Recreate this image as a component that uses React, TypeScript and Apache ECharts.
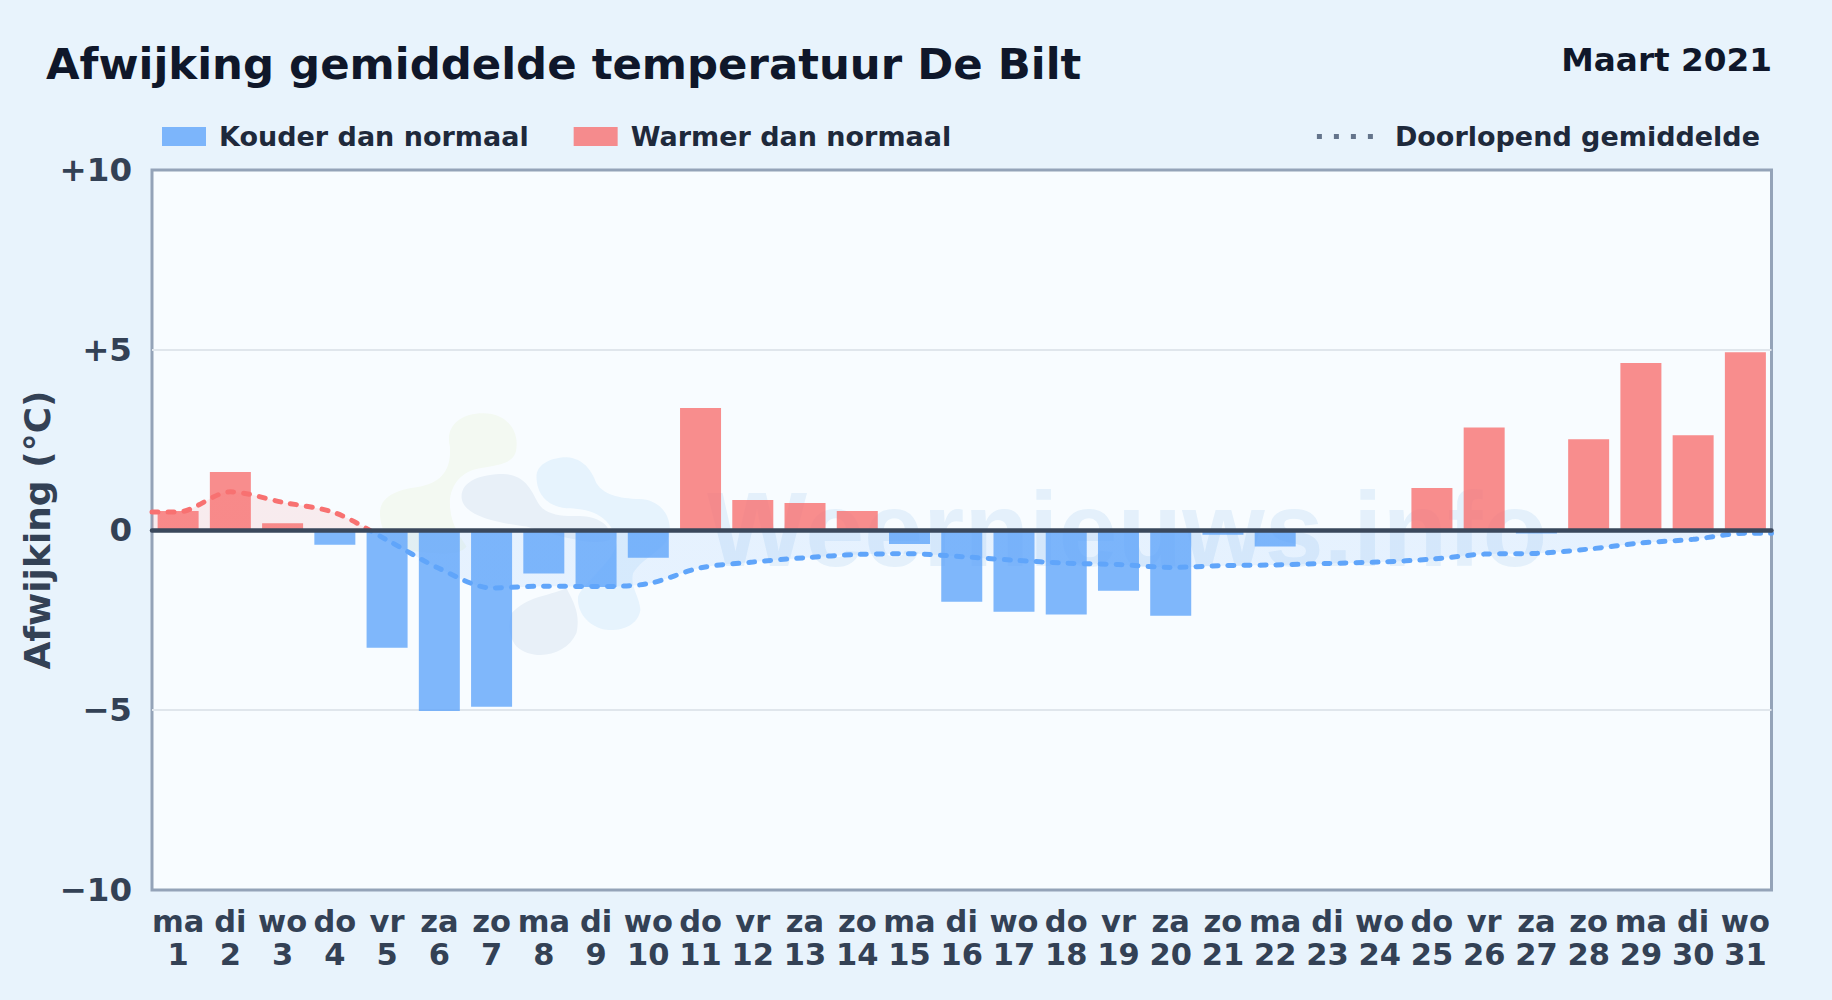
import React, { useEffect, useRef } from "react";
import * as echarts from "echarts";

const weekdays = ["ma","di","wo","do","vr","za","zo","ma","di","wo","do","vr","za","zo","ma","di","wo","do","vr","za","zo","ma","di","wo","do","vr","za","zo","ma","di","wo"];
const days = ["1","2","3","4","5","6","7","8","9","10","11","12","13","14","15","16","17","18","19","20","21","22","23","24","25","26","27","28","29","30","31"];
const deviation = [0.53,1.61,0.19,-0.41,-3.27,-5.03,-4.91,-1.21,-1.58,-0.77,3.39,0.83,0.75,0.53,-0.39,-1.99,-2.27,-2.35,-1.69,-2.38,-0.13,-0.46,0,0,1.17,2.85,-0.1,2.52,4.64,2.63,4.94];
const runningMean = [0.5,1.06,0.77,0.48,-0.28,-1.07,-1.61,-1.56,-1.57,-1.49,-1.05,-0.89,-0.77,-0.68,-0.66,-0.74,-0.84,-0.92,-0.96,-1.04,-0.99,-0.97,-0.93,-0.89,-0.81,-0.67,-0.65,-0.53,-0.36,-0.26,-0.09];
const yTicks: Record<string, string> = { "10": "+10", "5": "+5", "0": "0", "-5": "\u22125", "-10": "\u221210" };

const BLUE = "#60a5fa";
const RED = "#f87171";
const FONT = "'DejaVu Sans', sans-serif";

const GREEN_BLOB = "M60 340C60 290 110 270 170 262C240 250 275 215 270 140C255 80 300 40 370 40C440 40 475 90 470 140C470 190 420 195 360 205C300 215 270 260 270 310C270 370 300 410 320 440C300 470 230 460 170 455C100 450 60 400 60 340Z";
const GRAY_BLOB = "M305 290C305 240 370 222 430 222C490 225 510 260 530 300C550 345 600 350 660 348C720 350 760 380 750 420C700 440 600 410 500 380C420 370 305 350 305 290ZM456 640C500 590 560 590 620 565C650 620 660 650 650 700C620 770 520 785 470 740C445 710 445 670 456 640Z";
const BLUE_BLOB = "M530 230C530 190 580 172 620 172C670 175 695 210 710 250C735 290 790 296 850 298C905 305 935 350 930 400C920 450 850 470 820 520C810 560 840 590 842 630C835 680 780 695 740 690C680 680 650 630 655 590C670 550 780 470 770 420C750 340 680 325 620 325C560 320 530 280 530 230Z";

echarts.graphic.registerShape("wmGreen", echarts.graphic.extendPath(GREEN_BLOB, {}));
echarts.graphic.registerShape("wmGray", echarts.graphic.extendPath(GRAY_BLOB, {}));
echarts.graphic.registerShape("wmBlue", echarts.graphic.extendPath(BLUE_BLOB, {}));

const PLOT_TOP = 170;
const PLOT_BOTTOM = 890;

const splitGradient = (alpha: number) => new echarts.graphic.LinearGradient(0, PLOT_TOP, 0, PLOT_BOTTOM, [
  { offset: 0, color: alpha < 1 ? `rgba(248,113,113,${alpha})` : RED },
  { offset: 0.5, color: alpha < 1 ? `rgba(248,113,113,${alpha})` : RED },
  { offset: 0.5, color: alpha < 1 ? `rgba(96,165,250,${alpha})` : BLUE },
  { offset: 1, color: alpha < 1 ? `rgba(96,165,250,${alpha})` : BLUE },
], true);

export default function App() {
  const ref = useRef<HTMLDivElement>(null);
  useEffect(() => {
    document.body.style.margin = "0";
    const chart = echarts.init(ref.current!, undefined, { renderer: "svg" });
    const blob = (type: string, fill: string) => ({
      type, x: 360, y: 400, scaleX: 1 / 3, scaleY: 1 / 3, z: 1, silent: true, style: { fill },
    });
    const legendText = { color: "#1e293b", fontFamily: FONT, fontWeight: "bold", fontSize: 27 };
    chart.setOption({
      animation: false,
      backgroundColor: "#e8f3fc",
      textStyle: { fontFamily: FONT },
      title: [
        { text: "Afwijking gemiddelde temperatuur De Bilt", left: 46, top: 42, padding: 0,
          textStyle: { color: "#0f172a", fontFamily: FONT, fontWeight: "bold", fontSize: 43.4 } },
        { text: "Maart 2021", right: 60, top: 43, padding: 0,
          textStyle: { color: "#0f172a", fontFamily: FONT, fontWeight: "bold", fontSize: 32.7 } },
      ],
      legend: [
        { left: 162, top: 123, padding: 0, itemWidth: 44, itemHeight: 19, itemGap: 45,
          icon: "rect", selectedMode: false,
          data: ["Kouder dan normaal", "Warmer dan normaal"],
          textStyle: { ...legendText, padding: [0, 0, 0, 8] } },
        { right: 72, top: 123, padding: 0, itemWidth: 56, itemHeight: 5, selectedMode: false,
          data: [{ name: "Doorlopend gemiddelde",
            icon: "path://M0 0h5v5h-5zM17 0h5v5h-5zM34 0h5v5h-5zM51 0h5v5h-5z",
            itemStyle: { color: "#64748b", opacity: 1 }, lineStyle: { opacity: 0 } }],
          textStyle: { ...legendText, padding: [0, 0, 0, 17] } },
      ],
      grid: { left: 152, right: 60.5, top: PLOT_TOP, bottom: 1000 - PLOT_BOTTOM, show: true,
        backgroundColor: "#f8fcff", borderColor: "#94a3b8", borderWidth: 3, containLabel: false },
      xAxis: [
        { type: "category", data: days.map((d, i) => `${weekdays[i]}\n${d}`), z: 4,
          axisLine: { show: true, onZero: true, lineStyle: { color: "#3a485c", width: 4.5 } },
          axisTick: { show: false },
          axisLabel: { interval: 0, color: "#334155", fontFamily: FONT, fontWeight: "bold", fontSize: 30.5, lineHeight: 33, margin: 15 } },
        { type: "value", min: 0, max: 31, show: false, gridIndex: 0 },
      ],
      yAxis: {
        type: "value", min: -10, max: 10, interval: 5,
        name: "Afwijking (\u00B0C)", nameLocation: "middle", nameGap: 97, nameRotate: 90, nameMoveOverlap: false,
        nameTextStyle: { color: "#334155", fontFamily: FONT, fontWeight: "bold", fontSize: 36 },
        axisLine: { show: false }, axisTick: { show: false },
        axisLabel: { color: "#334155", fontFamily: FONT, fontWeight: "bold", fontSize: 32.5, margin: 20,
          formatter: (v: number) => yTicks[String(v)] },
        splitLine: { show: true, showMinLine: false, showMaxLine: false, lineStyle: { color: "#e0e6ec", width: 2 } },
      },
      series: [
        { name: "Kouder dan normaal", type: "bar", barWidth: 41, barGap: "-100%",
          itemStyle: { color: "rgba(96,165,250,0.8)" },
          data: deviation.map((v) => (v < 0 ? v : null)) },
        { name: "Warmer dan normaal", type: "bar", barWidth: 41, barGap: "-100%",
          itemStyle: { color: "rgba(248,113,113,0.8)" },
          data: deviation.map((v) => (v > 0 ? v : null)) },
        { name: "Doorlopend gemiddelde", type: "line", xAxisIndex: 1, yAxisIndex: 0, smooth: 0.3,
          showSymbol: false, z: 3,
          lineStyle: { width: 5, type: [6, 10], cap: "round", color: splitGradient(1) },
          areaStyle: { origin: 0, color: splitGradient(0.17) },
          data: [[0, runningMean[0]], ...runningMean.map((v, i) => [i + 0.5, v]), [31, runningMean[30]]] },
      ],
      graphic: [
        blob("wmGreen", "#f3f9f2"),
        blob("wmGray", "#e8f0f8"),
        blob("wmBlue", "#e6f3fd"),
        { type: "text", x: 707, y: 476, z: 1, silent: true,
          style: { text: "Weernieuws.info", fill: "rgba(96,160,225,0.13)", fontFamily: "'Liberation Sans', sans-serif", fontWeight: "bold", fontSize: 106 } },
      ],
    });
    return () => chart.dispose();
  }, []);
  return <div ref={ref} style={{ position: "absolute", left: 0, top: 0, width: 1832, height: 1000 }} />;
}
